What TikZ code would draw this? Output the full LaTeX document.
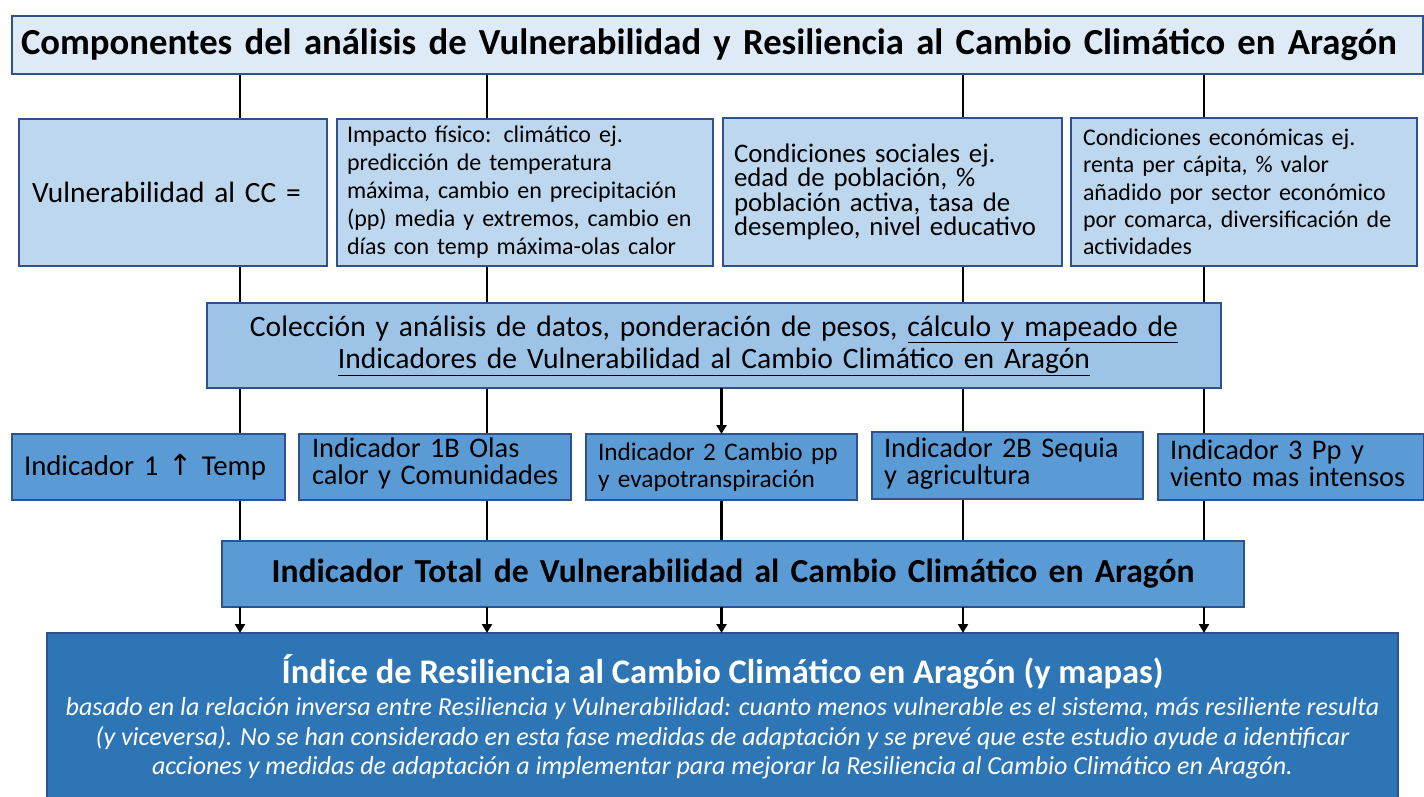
\documentclass[tikz,border=0pt]{standalone}
\usepackage{fontspec}
\setmainfont{Carlito}
\newfontfamily\dejavu{DejaVu Sans}
\usetikzlibrary{arrows.meta,backgrounds}
\definecolor{bcol}{HTML}{2F528F}
\definecolor{ctitle}{HTML}{DEEBF7}
\definecolor{crow}{HTML}{BDD7EE}
\definecolor{ccoll}{HTML}{9DC3E6}
\definecolor{cind}{HTML}{5B9BD5}
\definecolor{cfinal}{HTML}{2E75B6}
\tikzset{
  box/.style={draw=bcol, line width=1.2pt, inner ysep=0pt, outer sep=0pt, rectangle, align=left},
  link/.style={line width=2.8pt, black},
  arr/.style={line width=2.8pt, black, -{Triangle[length=9pt,width=10pt]}},
}
\begin{document}
\begin{tikzpicture}[x=1pt,y=-1pt]
\useasboundingbox (0,0) rectangle (1424,796);
% title
\node[box, fill=ctitle, minimum width=1411, minimum height=58, inner xsep=9, text width=1393,
  font=\bfseries\fontsize{36.7}{40}\selectfont] (title) at (717.5,45)
  {\mbox{Componentes del análisis de Vulnerabilidad y Resiliencia al Cambio Climático en Aragón}};
% row 2
\node[box, fill=crow, minimum width=308, minimum height=147, inner xsep=13, text width=282,
  font=\fontsize{29.4}{33}\selectfont] (A) at (173,192.5) {Vulnerabilidad al CC =};
\node[box, fill=crow, minimum width=376, minimum height=147, inner xsep=10, text width=356,
  font=\fontsize{24}{28}\selectfont] (B) at (525,192.5)
  {\mbox{Impacto físico: climático ej.}\\ \mbox{predicción de temperatura}\\ \mbox{máxima, cambio en precipitación}\\ \mbox{(pp) media y extremos, cambio en}\\ \mbox{días con temp máxima-olas calor}};
\node[box, fill=crow, minimum width=339, minimum height=148, inner xsep=11, text width=317,
  font=\fontsize{26.8}{24.5}\selectfont] (C) at (892.5,192)
  {\mbox{Condiciones sociales ej.}\\ \mbox{edad de población, \%}\\ \mbox{población activa, tasa de}\\ \mbox{desempleo, nivel educativo}};
\node[box, fill=crow, minimum width=346, minimum height=148, inner xsep=12, text width=322,
  font=\fontsize{23.9}{27.3}\selectfont] (D) at (1244,192)
  {\mbox{Condiciones económicas ej.}\\ \mbox{renta per cápita, \% valor}\\ \mbox{añadido por sector económico}\\ \mbox{por comarca, diversificación de}\\ actividades};
% collection
\node[box, fill=ccoll, minimum width=1014, minimum height=85, inner xsep=10, text width=994, align=center,
  font=\fontsize{29.6}{32}\selectfont] (coll) at (714,345.5)
  {\mbox{Colección y análisis de datos, ponderación de pesos, \underline{cálculo y mapeado de}}\\ \underline{Indicadores de Vulnerabilidad al Cambio Climático en Aragón}};
% indicators
\node[box, fill=cind, minimum width=273, minimum height=66, inner xsep=12, text width=249,
  font=\fontsize{28.8}{27}\selectfont] (I1) at (148.5,467) {\mbox{Indicador 1 {\dejavu\fontsize{29}{27}\selectfont ↑} Temp}};
\node[box, fill=cind, minimum width=272, minimum height=66, inner xsep=13, text width=246,
  font=\fontsize{28.4}{27}\selectfont] (I1B) at (435,467) {\mbox{Indicador 1B Olas}\\ \mbox{calor y Comunidades\rule[-11pt]{0pt}{1pt}}};
\node[box, fill=cind, minimum width=271, minimum height=66, inner xsep=12, text width=247,
  font=\fontsize{25.3}{27}\selectfont] (I2) at (721.5,467) {\mbox{Indicador 2 Cambio pp}\\ \mbox{y evapotranspiración}};
\node[box, fill=cind, minimum width=271, minimum height=67, inner xsep=12, text width=247,
  font=\fontsize{28.4}{27}\selectfont] (I2B) at (1007.5,465.5) {\mbox{Indicador 2B Sequia}\\ y agricultura\strut};
\node[box, fill=cind, minimum width=266, minimum height=66, inner xsep=12, text width=242,
  font=\fontsize{28.4}{27}\selectfont] (I3) at (1291,467) {\mbox{Indicador 3 Pp y}\\ \mbox{viento mas intensos\rule[-7pt]{0pt}{1pt}}};
% total
\node[box, fill=cind, minimum width=1022, minimum height=66, inner xsep=10, text width=1002, align=center,
  font=\bfseries\fontsize{33.6}{36}\selectfont] (total) at (733,574)
  {Indicador Total de Vulnerabilidad al Cambio Climático en Aragón};
% final
\node[box, fill=cfinal, minimum width=1351, minimum height=170, inner xsep=0, anchor=north] (final) at (722.5,633) {};
\node[text=white, align=center, inner sep=0, font=\bfseries\fontsize{34.5}{38}\selectfont] (finaltitle) at (722.5,672)
  {Índice de Resiliencia al Cambio Climático en Aragón (y mapas)};
\node[text=white, align=center, inner sep=0, font=\itshape\fontsize{26}{29.5}\selectfont] (finalbody) at (722.5,738.5)
  {basado en la relación inversa entre Resiliencia y Vulnerabilidad: cuanto menos vulnerable es el sistema, más resiliente resulta\\
   (y viceversa). No se han considerado en esta fase medidas de adaptación y se prevé que este estudio ayude a identificar\\
   acciones y medidas de adaptación a implementar para mejorar la Resiliencia al Cambio Climático en Aragón.};
% column coordinates
\coordinate (x1) at (240,0);
\coordinate (x2) at (487,0);
\coordinate (x3) at (721.5,0);
\coordinate (x4) at (963,0);
\coordinate (x5) at (1204,0);
\begin{scope}[on background layer]
\draw[link] (title.south -| x1) -- (A.north -| x1);
\draw[link] (title.south -| x2) -- (B.north -| x2);
\draw[link] (title.south -| x4) -- (C.north -| x4);
\draw[link] (title.south -| x5) -- (D.north -| x5);
\draw[link] (A.south -| x1) -- (coll.north -| x1);
\draw[link] (B.south -| x2) -- (coll.north -| x2);
\draw[link] (C.south -| x4) -- (coll.north -| x4);
\draw[link] (D.south -| x5) -- (coll.north -| x5);
\draw[link] (coll.south -| x1) -- (I1.north -| x1);
\draw[link] (coll.south -| x2) -- (I1B.north -| x2);
\draw[link] (coll.south -| x4) -- (I2B.north -| x4);
\draw[link] (coll.south -| x5) -- (I3.north -| x5);
\draw[link] (I1.south -| x1) -- (total.north -| x1);
\draw[link] (I1B.south -| x2) -- (total.north -| x2);
\draw[link] (I2.south -| x3) -- (total.north -| x3);
\draw[link] (I2B.south -| x4) -- (total.north -| x4);
\draw[link] (I3.south -| x5) -- (total.north -| x5);
\end{scope}
\draw[arr] (coll.south -| x3) -- (I2.north -| x3);
\draw[arr] (total.south -| x1) -- (final.north -| x1);
\draw[arr] (total.south -| x2) -- (final.north -| x2);
\draw[arr] (total.south -| x3) -- (final.north -| x3);
\draw[arr] (total.south -| x4) -- (final.north -| x4);
\draw[arr] (total.south -| x5) -- (final.north -| x5);
\end{tikzpicture}
\end{document}
